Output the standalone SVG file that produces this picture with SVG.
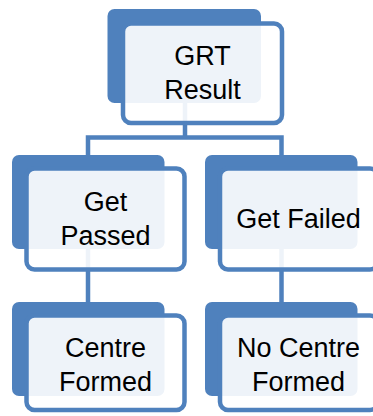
<svg xmlns="http://www.w3.org/2000/svg" width="373" height="416" viewBox="0 0 373 416">
<style>
.back{fill:#4F81BD;}
.front{fill:#FFFFFF;fill-opacity:0.9;stroke:#4F81BD;stroke-width:4.5;}
.conn{fill:none;stroke:#4F81BD;stroke-width:4.5;}
.lbl{font-family:"Liberation Sans",Arial,sans-serif;font-size:27px;fill:#000000;text-anchor:middle;}
</style>
<rect width="373" height="416" fill="#FFFFFF"/>
<g id="connectors">
<path class="conn" d="M185,103 V137.5"/>
<path class="conn" d="M88,155 V137.5 H281.5 V155"/>
<path class="conn" d="M88,249 V302"/>
<path class="conn" d="M281.5,249 V302"/>
</g>
<g id="grt-result">
<rect class="back" x="107.5" y="9" width="153.5" height="94" rx="7"/>
<rect class="front" x="123" y="23.5" width="159" height="99.5" rx="8"/>
<text class="lbl" x="202.5" y="65">GRT</text>
<text class="lbl" x="202.5" y="99">Result</text>
</g>
<g id="get-passed">
<rect class="back" x="12" y="155" width="152.5" height="94" rx="7"/>
<rect class="front" x="26.5" y="168.5" width="158" height="101" rx="8"/>
<text class="lbl" x="105.5" y="210.7">Get</text>
<text class="lbl" x="105.5" y="245">Passed</text>
</g>
<g id="get-failed">
<rect class="back" x="205" y="155" width="152.5" height="94" rx="7"/>
<rect class="front" x="220" y="168.5" width="158" height="101" rx="8"/>
<text class="lbl" x="298.5" y="228.3">Get Failed</text>
</g>
<g id="centre-formed">
<rect class="back" x="12" y="302" width="152.5" height="94" rx="7"/>
<rect class="front" x="26.5" y="315.5" width="158" height="94.5" rx="8"/>
<text class="lbl" x="105.5" y="357.3">Centre</text>
<text class="lbl" x="105.5" y="391">Formed</text>
</g>
<g id="no-centre-formed">
<rect class="back" x="205" y="302" width="152.5" height="94" rx="7"/>
<rect class="front" x="220" y="315.5" width="158" height="94.5" rx="8"/>
<text class="lbl" x="298.5" y="357.3">No Centre</text>
<text class="lbl" x="298.5" y="391">Formed</text>
</g>
</svg>
